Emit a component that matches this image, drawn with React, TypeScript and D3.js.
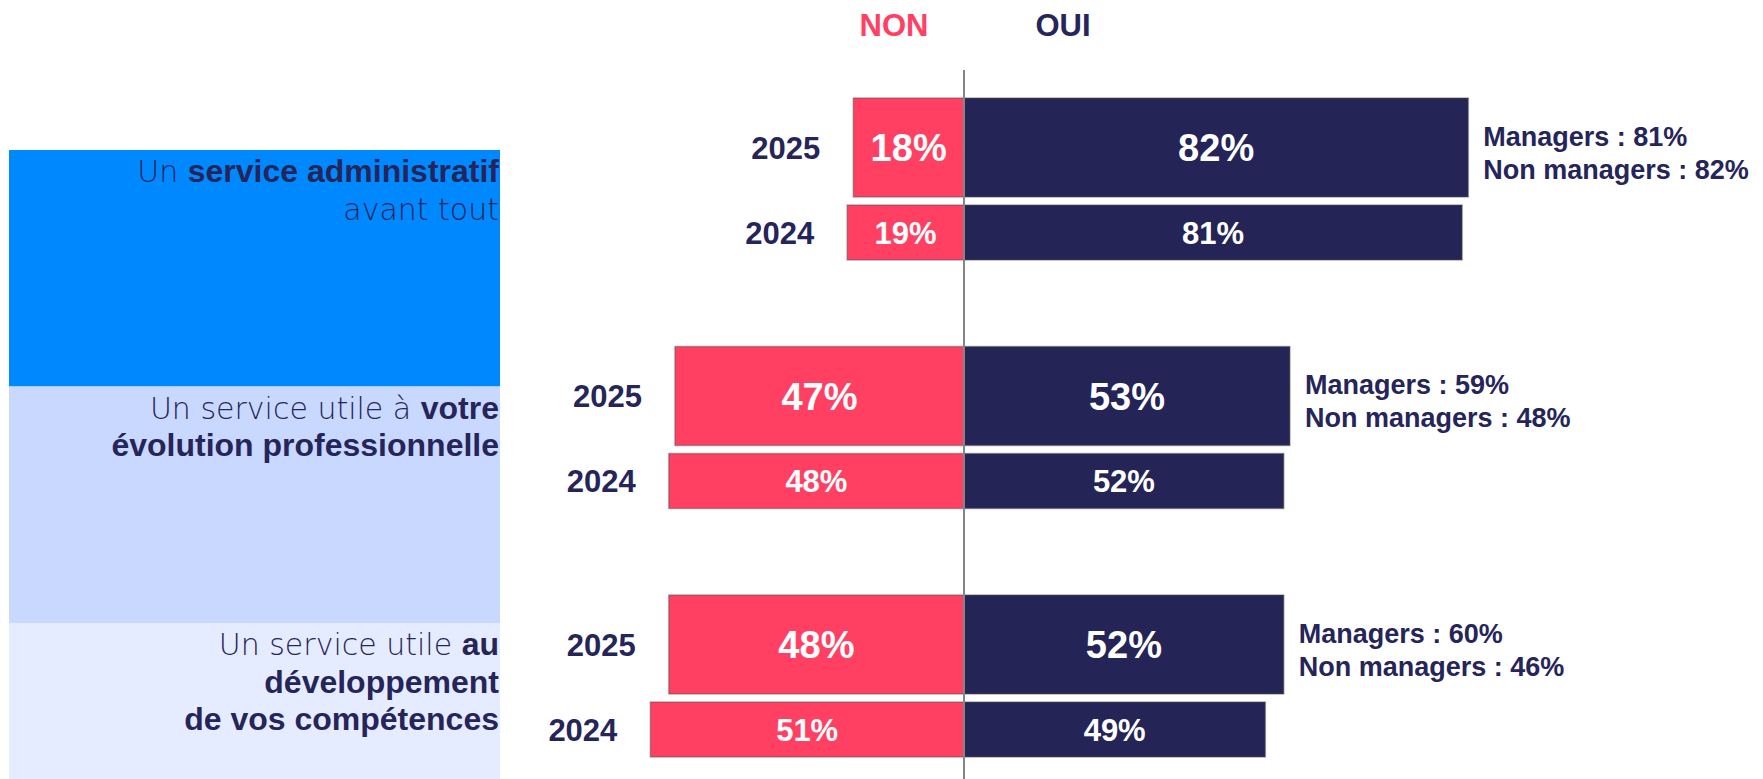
import { useEffect, useRef } from "react";
import * as d3 from "d3";

// ---- data ----
const THEMES = ["administratif", "evolution", "competences"];
const YEARS = ["2025", "2024"];
const NON_2025 = [18, 47, 48];
const NON_2024 = [19, 48, 51];
const OUI_2025 = [82, 53, 52];
const OUI_2024 = [81, 52, 49];
const MANAGERS = [81, 59, 60];
const NON_MANAGERS = [82, 48, 46];

// each theme label is a list of lines, each line a list of [text, bold] runs
const THEME_LABELS: [string, boolean][][][] = [
  [
    [["Un ", false], ["service administratif", true]],
    [["avant tout", false]],
  ],
  [
    [["Un service utile à ", false], ["votre", true]],
    [["évolution professionnelle", true]],
  ],
  [
    [["Un service utile ", false], ["au", true]],
    [["développement", true]],
    [["de vos compétences", true]],
  ],
];

const LAYOUT = {
  width: 1763,
  height: 779,
  centerX: 964,
  barSpan: 615, // px for 100%
  groupTop: 98,
  groupStep: 248.5,
  bigBar: 99,
  smallBar: 55,
  barGap: 8,
  box: { x: 9, width: 491, top: 150, height: 236.5 },
};

const COLORS = {
  non: "#FF4062",
  oui: "#242457",
  navy: "#25255A",
  axis: "#858585",
  boxes: ["#0088FF", "#C9D8FF", "#E6ECFF"],
};

const FONT = "'Liberation Sans', Arial, sans-serif";
const LIGHT_FONT = "'DejaVu Sans', sans-serif";

function drawBoxes(svg) {
  const { box } = LAYOUT;
  const boxY = d3
    .scaleBand()
    .domain(THEMES)
    .range([box.top, box.top + box.height * THEMES.length]);

  THEMES.forEach((t, i) => {
    svg
      .append("rect")
      .attr("x", box.x)
      .attr("y", boxY(t))
      .attr("width", box.width)
      .attr("height", boxY.bandwidth())
      .attr("fill", COLORS.boxes[i]);

    const text = svg
      .append("text")
      .attr("text-anchor", "end")
      .attr("fill", COLORS.navy);

    THEME_LABELS[i].forEach((line, li) => {
      line.forEach(([str, bold], ri) => {
        const span = text
          .append("tspan")
          .attr("font-family", bold ? FONT : LIGHT_FONT)
          .attr("font-weight", bold ? 700 : 200)
          .attr("font-size", bold ? 32 : 30)
          .text(str);
        if (ri === 0) {
          span.attr("x", box.x + box.width - 1).attr("y", boxY(t) + 32 + li * 37.5);
        }
      });
    });
  });
}

function drawBars(svg) {
  const { centerX, groupTop, groupStep, bigBar, smallBar, barGap } = LAYOUT;
  const x = d3.scaleLinear().domain([0, 100]).range([0, LAYOUT.barSpan]);
  const groupY = d3
    .scaleBand()
    .domain(THEMES)
    .range([groupTop, groupTop + groupStep * THEMES.length]);

  const rows = [];
  THEMES.forEach((t, i) => {
    rows.push({ theme: t, i, year: YEARS[0], non: NON_2025[i], oui: OUI_2025[i], y: groupY(t), h: bigBar, fs: 38 });
    rows.push({ theme: t, i, year: YEARS[1], non: NON_2024[i], oui: OUI_2024[i], y: groupY(t) + bigBar + barGap, h: smallBar, fs: 31 });
  });

  const g = svg.append("g");
  rows.forEach((r) => {
    const cy = r.y + r.h / 2;
    g.append("rect")
      .attr("x", centerX - x(r.non))
      .attr("y", r.y)
      .attr("width", x(r.non))
      .attr("height", r.h)
      .attr("fill", COLORS.non)
      .attr("stroke", "rgba(80,80,80,0.45)")
      .attr("stroke-width", 1.5);
    g.append("rect")
      .attr("x", centerX)
      .attr("y", r.y)
      .attr("width", x(r.oui))
      .attr("height", r.h)
      .attr("fill", COLORS.oui)
      .attr("stroke", "rgba(80,80,80,0.45)")
      .attr("stroke-width", 1.5);

    g.append("text")
      .attr("x", centerX - x(r.non) / 2)
      .attr("y", cy)
      .attr("dy", "0.36em")
      .attr("text-anchor", "middle")
      .attr("font-family", FONT)
      .attr("font-weight", 700)
      .attr("font-size", r.fs)
      .attr("fill", "#fff")
      .text(`${r.non}%`);
    g.append("text")
      .attr("x", centerX + x(r.oui) / 2)
      .attr("y", cy)
      .attr("dy", "0.36em")
      .attr("text-anchor", "middle")
      .attr("font-family", FONT)
      .attr("font-weight", 700)
      .attr("font-size", r.fs)
      .attr("fill", "#fff")
      .text(`${r.oui}%`);

    g.append("text")
      .attr("x", centerX - x(r.non) - 33)
      .attr("y", cy)
      .attr("dy", "0.36em")
      .attr("text-anchor", "end")
      .attr("font-family", FONT)
      .attr("font-weight", 700)
      .attr("font-size", 31)
      .attr("fill", COLORS.navy)
      .text(r.year);

    if (r.year === YEARS[0]) {
      const ax = centerX + x(r.oui) + 15;
      [`Managers : ${MANAGERS[r.i]}%`, `Non managers : ${NON_MANAGERS[r.i]}%`].forEach((s, k) => {
        g.append("text")
          .attr("x", ax)
          .attr("y", cy - 2 + k * 33)
          .attr("font-family", FONT)
          .attr("font-weight", 700)
          .attr("font-size", 27)
          .attr("fill", COLORS.navy)
          .text(s);
      });
    }
  });

  // centre axis
  svg
    .append("line")
    .attr("x1", centerX)
    .attr("x2", centerX)
    .attr("y1", 70)
    .attr("y2", LAYOUT.height)
    .attr("stroke", COLORS.axis)
    .attr("stroke-width", 2);

  // column headers
  svg
    .append("text")
    .attr("x", centerX - 70)
    .attr("y", 36)
    .attr("text-anchor", "middle")
    .attr("font-family", FONT)
    .attr("font-weight", 700)
    .attr("font-size", 31)
    .attr("fill", COLORS.non)
    .text("NON");
  svg
    .append("text")
    .attr("x", centerX + 99)
    .attr("y", 36)
    .attr("text-anchor", "middle")
    .attr("font-family", FONT)
    .attr("font-weight", 700)
    .attr("font-size", 31)
    .attr("fill", COLORS.navy)
    .text("OUI");
}

export default function App() {
  const ref = useRef(null);

  useEffect(() => {
    const container = ref.current;
    if (!container) return undefined;
    d3.select(container).selectAll("*").remove();

    const svg = d3
      .select(container)
      .append("svg")
      .attr("width", LAYOUT.width)
      .attr("height", LAYOUT.height)
      .style("display", "block")
      .style("background", "#fff");

    drawBoxes(svg);
    drawBars(svg);
    return undefined;
  }, []);

  return (
    <div
      ref={ref}
      style={{ position: "absolute", left: 0, top: 0, width: LAYOUT.width, height: LAYOUT.height, overflow: "hidden" }}
    />
  );
}
